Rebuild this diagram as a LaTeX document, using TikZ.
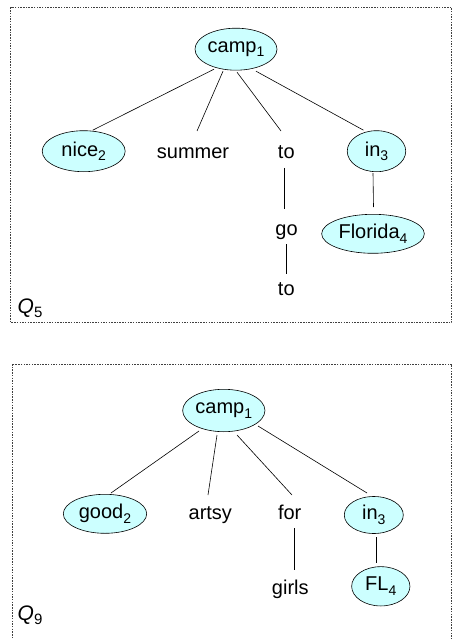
\documentclass[tikz,border=0pt]{standalone}
\usepackage{fontspec}
\setmainfont{Liberation Sans}
\usetikzlibrary{shapes.geometric,calc}
\definecolor{nodecyan}{HTML}{CCFFFF}
\newcommand{\sbs}[1]{\raisebox{-4.5pt}{\fontsize{14}{14}\selectfont #1}}
\newcommand{\qsbs}[1]{\raisebox{-4.5pt}{\fontsize{15}{15}\selectfont #1}}
\begin{document}
\begin{tikzpicture}[x=1pt,y=-1pt,
  every node/.style={font=\fontsize{20}{22}\selectfont},
  ell/.style={ellipse,draw=black,fill=nodecyan,inner sep=0pt,line width=0.6pt},
  word/.style={inner sep=0pt,anchor=base},
  edge/.style={draw=black,line width=0.6pt},
  panel/.style={draw=black!75,line width=0.6pt,dash pattern=on 1.5pt off 1.2pt},
  qlabel/.style={anchor=base west,inner sep=0pt,font=\fontsize{21}{23}\selectfont}]
\useasboundingbox (0,0) rectangle (453,639);
% top panel
\draw[panel] (10.7,7.5) rectangle (451.7,322.7);
\node[ell,minimum width=82pt,minimum height=42pt] (c1) at (236,49.2) {camp\sbs{1}};
\node[ell,minimum width=83pt,minimum height=41pt] (n2) at (83.7,151.2) {nice\sbs{2}};
\node[word] (sum) at (193,158.3) {summer};
\node[word] (to1) at (286.3,158.3) {to};
\node[ell,minimum width=58.5pt,minimum height=41pt] (i3) at (376.5,151.2) {in\sbs{3}};
\node[word] (go) at (286.5,235) {go};
\node[ell,minimum width=102.7pt,minimum height=39pt] (f4) at (373,233.8) {Florida\sbs{4}};
\node[word] (to2) at (286.3,295) {to};
\node[qlabel] (q5) at (17.5,313) {\textit{Q}\qsbs{5}};
\draw[edge] ($(c1.center)+(-22,20)$) -- ($(n2.center)+(9,-21)$);
\draw[edge] ($(c1.center)+(-13,22)$) -- ($(sum.base)+(4,-27.3)$);
\draw[edge] ($(c1.center)+(1,23)$) -- ($(to1.base)+(-5.3,-27.3)$);
\draw[edge] ($(c1.center)+(20,22)$) -- ($(i3.center)+(-13,-21)$);
\draw[edge] ($(to1.base)+(-2.3,9.7)$) -- ($(go.base)+(-2.5,-26)$);
\draw[edge] ($(go.base)+(-0.5,9)$) -- ($(to2.base)+(-0.3,-21)$);
\draw[edge] ($(i3.center)+(-3.5,22)$) -- ($(f4.center)+(0.5,-26.8)$);
% bottom panel
\draw[panel] (12,364) rectangle (451.7,645);
\node[ell,minimum width=82.3pt,minimum height=42.4pt] (c2) at (223.8,410.5) {camp\sbs{1}};
\node[ell,minimum width=83.4pt,minimum height=39pt] (g2) at (105,513.8) {good\sbs{2}};
\node[word] (art) at (210.3,519.3) {artsy};
\node[word] (for) at (289.7,519.3) {for};
\node[ell,minimum width=59pt,minimum height=37pt] (j3) at (373.8,515) {in\sbs{3}};
\node[word] (girls) at (290.3,594.3) {girls};
\node[ell,minimum width=58.3pt,minimum height=39.3pt] (fl) at (380.8,586.3) {FL\sbs{4}};
\node[qlabel] (q9) at (17.5,620) {\textit{Q}\qsbs{9}};
\draw[edge] ($(c2.center)+(-24.8,20.5)$) -- ($(g2.center)+(6,-20.8)$);
\draw[edge] ($(c2.center)+(-6.8,24.5)$) -- ($(art.base)+(-2.3,-24.3)$);
\draw[edge] ($(c2.center)+(13.2,24.5)$) -- ($(for.base)+(2.3,-24.3)$);
\draw[edge] ($(c2.center)+(34.2,15.5)$) -- ($(j3.center)+(-6.8,-22)$);
\draw[edge] ($(for.base)+(4.3,8.7)$) -- ($(girls.base)+(3.7,-24.3)$);
\draw[edge] ($(j3.center)+(2.2,22)$) -- ($(fl.center)+(-4.8,-23.3)$);
\end{tikzpicture}
\end{document}
